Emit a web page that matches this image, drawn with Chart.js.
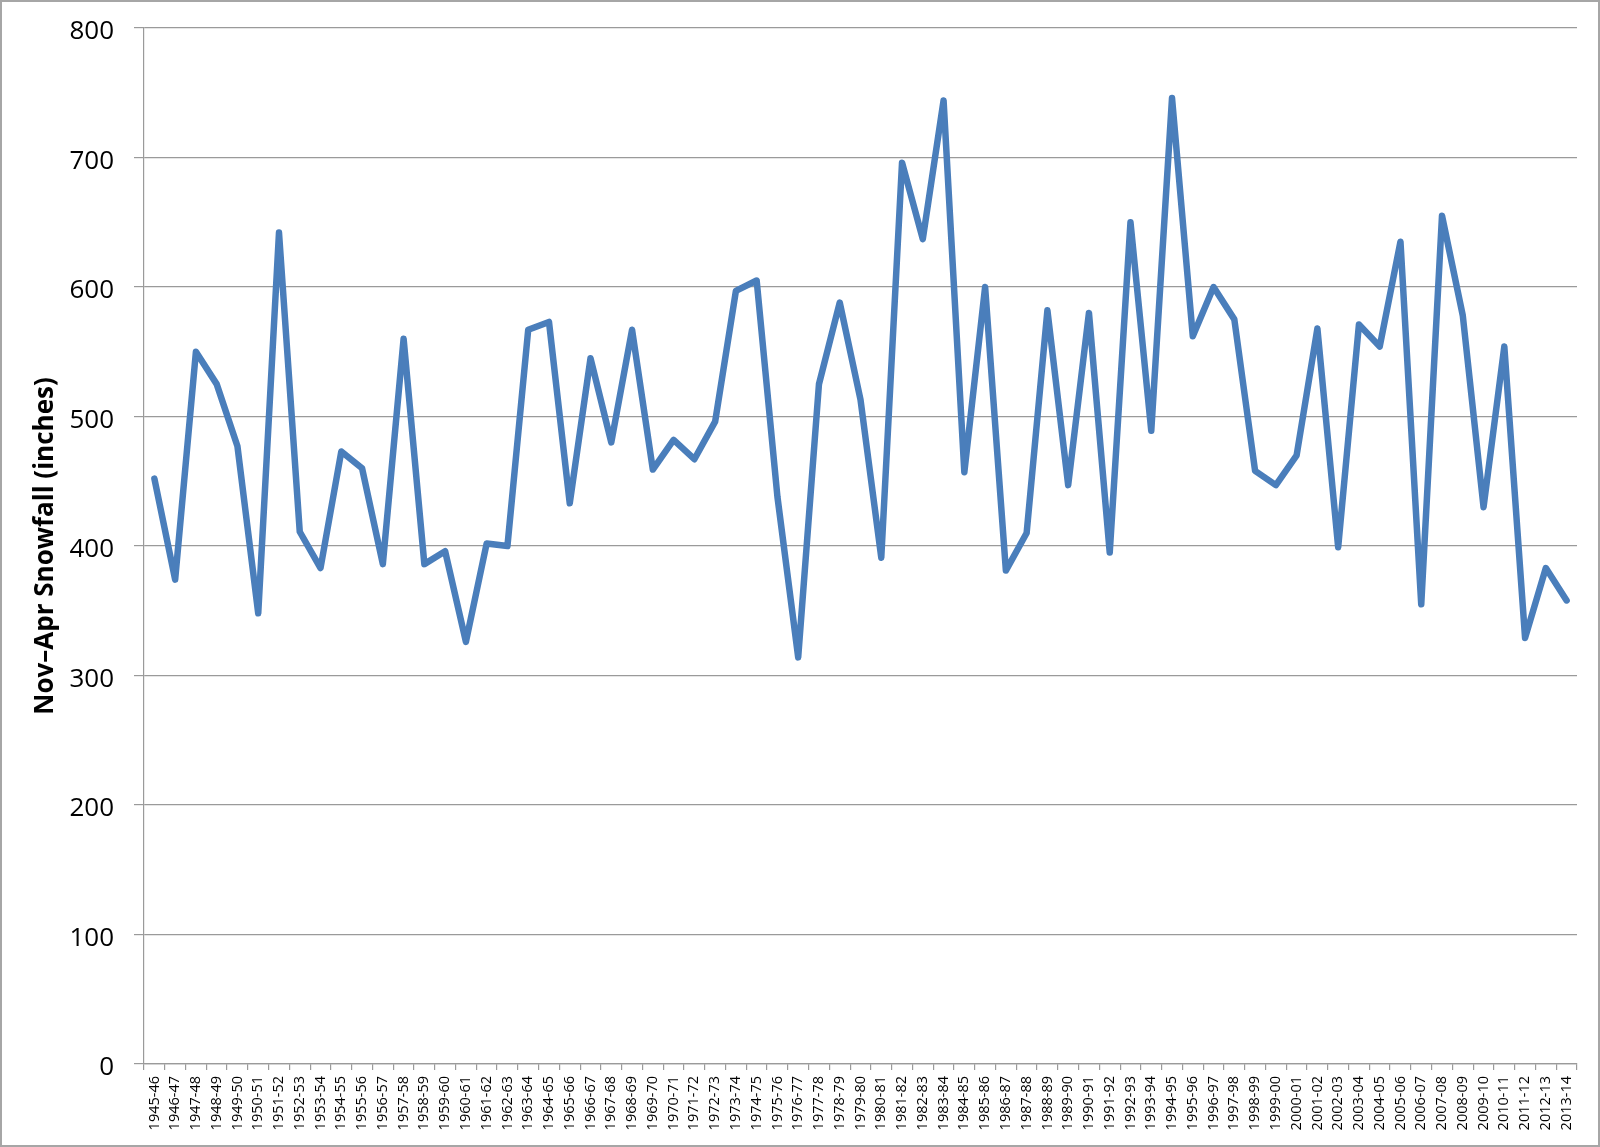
<!DOCTYPE html>
<html>
<head>
<meta charset="utf-8">
<script src="https://cdn.jsdelivr.net/npm/chart.js@4"></script>
<style>
  html, body { margin: 0; padding: 0; background: #fff; }
  #wrap { width: 1600px; height: 1147px; position: relative; }
</style>
</head>
<body>
<div id="wrap"><canvas id="c"></canvas></div>
<script>
const seasons = [
  "1945-46","1946-47","1947-48","1948-49","1949-50","1950-51","1951-52","1952-53","1953-54","1954-55",
  "1955-56","1956-57","1957-58","1958-59","1959-60","1960-61","1961-62","1962-63","1963-64","1964-65",
  "1965-66","1966-67","1967-68","1968-69","1969-70","1970-71","1971-72","1972-73","1973-74","1974-75",
  "1975-76","1976-77","1977-78","1978-79","1979-80","1980-81","1981-82","1982-83","1983-84","1984-85",
  "1985-86","1986-87","1987-88","1988-89","1989-90","1990-91","1991-92","1992-93","1993-94","1994-95",
  "1995-96","1996-97","1997-98","1998-99","1999-00","2000-01","2001-02","2002-03","2003-04","2004-05",
  "2005-06","2006-07","2007-08","2008-09","2009-10","2010-11","2011-12","2012-13","2013-14"
];
const snowfall = [
  452, 374, 550, 525, 477, 348, 642, 411, 383, 473,
  460, 386, 560, 386, 396, 326, 402, 400, 567, 573,
  433, 545, 480, 567, 459, 482, 467, 496, 597, 605,
  438, 314, 525, 588, 513, 391, 696, 637, 744, 457,
  600, 381, 410, 582, 447, 580, 395, 650, 489, 746,
  562, 600, 575, 458, 447, 470, 568, 399, 571, 554,
  635, 355, 655, 578, 430, 554, 329, 383, 358
];
const yAxisTitle = "Nov\u2013Apr Snowfall (inches)";
const yMin = 0, yMax = 800, yStep = 100;

const frame = {
  id: 'frame',
  afterDraw(chart) {
    const ctx = chart.ctx;
    ctx.save();
    ctx.strokeStyle = '#a6a6a6';
    ctx.lineWidth = 2;
    ctx.strokeRect(1, 1, chart.width - 2, chart.height - 2);
    ctx.restore();
  }
};

new Chart(document.getElementById('c'), {
  type: 'line',
  data: {
    labels: seasons,
    datasets: [{
      data: snowfall,
      borderColor: '#4a7ebb',
      backgroundColor: '#4a7ebb',
      borderWidth: 6.5,
      pointRadius: 0,
      tension: 0,
      borderJoinStyle: 'round',
      borderCapStyle: 'round',
      fill: false
    }]
  },
  options: {
    responsive: true,
    maintainAspectRatio: false,
    animation: false,
    layout: { padding: { top: 28, right: 23, bottom: 0, left: 24 } },
    plugins: { legend: { display: false }, tooltip: { enabled: false } },
    scales: {
      x: {
        offset: true,
        grid: { display: true, offset: true, drawOnChartArea: false, drawTicks: true, tickLength: 6, color: '#9a9a9a', lineWidth: 1.2 },
        border: { display: true, color: '#9a9a9a', width: 1.2 },
        ticks: {
          autoSkip: false, maxRotation: 90, minRotation: 90, padding: 6,
          color: '#000', font: { family: 'Open Sans', size: 14.5 }
        },
        afterFit(scale) { scale.height = 83; scale.paddingLeft = 0; scale.paddingRight = 0; }
      },
      y: {
        min: yMin, max: yMax,
        grid: { color: '#9a9a9a', lineWidth: 1.2, tickLength: 10, drawTicks: true },
        border: { display: true, color: '#9a9a9a', width: 1.2 },
        ticks: {
          stepSize: yStep, padding: 20, labelOffset: 4, color: '#000',
          font: { family: 'Open Sans', size: 26 }
        },
        title: {
          display: true, text: yAxisTitle, color: '#000',
          font: { family: 'Open Sans', size: 26, weight: 'bold' },
          padding: { top: 6, bottom: 0 }
        },
        afterFit(scale) { scale.width = 144 - 24; scale.paddingTop = 0; scale.paddingBottom = 0; }
      }
    }
  },
  plugins: [frame]
});
</script>
</body>
</html>
